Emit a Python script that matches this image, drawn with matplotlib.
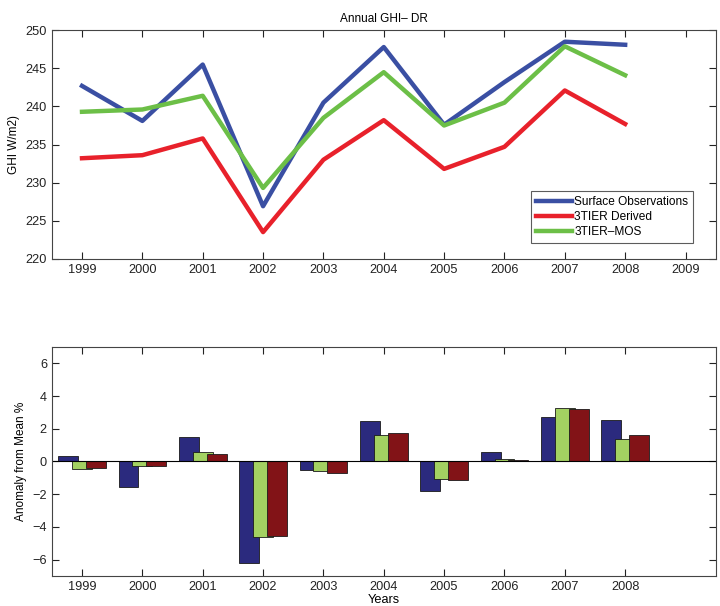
"""
Annual GHI comparison: absolute values (top) and anomaly from mean (bottom).
"""

import matplotlib
matplotlib.use("Agg")
import matplotlib.pyplot as plot
import numpy as np

years = [1999, 2000, 2001, 2002, 2003, 2004, 2005, 2006, 2007, 2008]

surface_obs = [242.7, 238.1, 245.5, 226.9, 240.5, 247.8, 237.6, 243.2, 248.5, 248.1]
tier_derived = [233.2, 233.6, 235.8, 223.5, 233.0, 238.2, 231.8, 234.7, 242.1, 237.7]
tier_mos = [239.3, 239.6, 241.4, 229.3, 238.5, 244.5, 237.5, 240.5, 247.9, 244.1]

anomaly_obs = [0.35, -1.55, 1.5, -6.2, -0.55, 2.45, -1.8, 0.55, 2.7, 2.55]
anomaly_mos = [-0.45, -0.3, 0.6, -4.6, -0.6, 1.6, -1.1, 0.15, 3.25, 1.4]
anomaly_derived = [-0.4, -0.25, 0.45, -4.55, -0.7, 1.75, -1.15, 0.07, 3.2, 1.6]

plot.rcParams["font.family"] = ["Liberation Sans", "DejaVu Sans"]
plot.rcParams["font.size"] = 9.2


def style_axes(axes):
  axes.tick_params(direction="in", top=True, right=True, length=5, width=0.8, colors="#222222")
  for spine in axes.spines.values():
    spine.set_color("#444444")
    spine.set_linewidth(0.8)


figure = plot.figure(figsize=(7.2, 6.06), dpi=100)

# top panel: annual GHI lines
top = figure.add_axes([0.072, 0.573, 0.922, 0.377])
top.plot(years, surface_obs, color="#3a4fa3", lw=3.2, label="Surface Observations")
top.plot(years, tier_derived, color="#e8212b", lw=3.2, label="3TIER Derived")
top.plot(years, tier_mos, color="#6cbf47", lw=3.2, label="3TIER\u2013MOS")
top.set_xlim(1998.5, 2009.5)
top.set_ylim(220, 250)
top.set_xticks(list(range(1999, 2010)))
top.set_yticks(range(220, 251, 5))
top.set_ylabel("GHI W/m2)", fontsize=8.5)
top.set_title("Annual GHI\u2013 DR", fontsize=8.5, pad=6)
legend = top.legend(loc="lower right", bbox_to_anchor=(0.975, 0.045), fancybox=False,
                    edgecolor="#333333", handlelength=3.0, handletextpad=0.2,
                    borderpad=0.4, labelspacing=0.25, fontsize=8.6)
legend.get_frame().set_linewidth(0.8)
style_axes(top)

# bottom panel: anomaly bars
bottom = figure.add_axes([0.072, 0.0495, 0.922, 0.378])
positions = np.arange(1, len(years) + 1)
width = 0.33
offset = 0.23
bottom.bar(positions - offset, anomaly_obs, width, color="#2b2a7e", edgecolor="#1a1a1a", lw=0.6)
bottom.bar(positions, anomaly_mos, width, color="#a3d162", edgecolor="#1a1a1a", lw=0.6)
bottom.bar(positions + offset, anomaly_derived, width, color="#821317", edgecolor="#1a1a1a", lw=0.6)
bottom.axhline(0, color="black", lw=0.8)
bottom.set_xlim(0.5, 11.5)
bottom.set_ylim(-7, 7)
bottom.set_xticks(positions)
bottom.set_xticklabels([str(year) for year in years])
bottom.set_yticks(range(-6, 7, 2))
bottom.set_ylabel("Anomaly from Mean %", fontsize=8.5)
bottom.set_xlabel("Years", labelpad=1)
style_axes(bottom)

plot.savefig("out.png", dpi=100)
plot.close()
